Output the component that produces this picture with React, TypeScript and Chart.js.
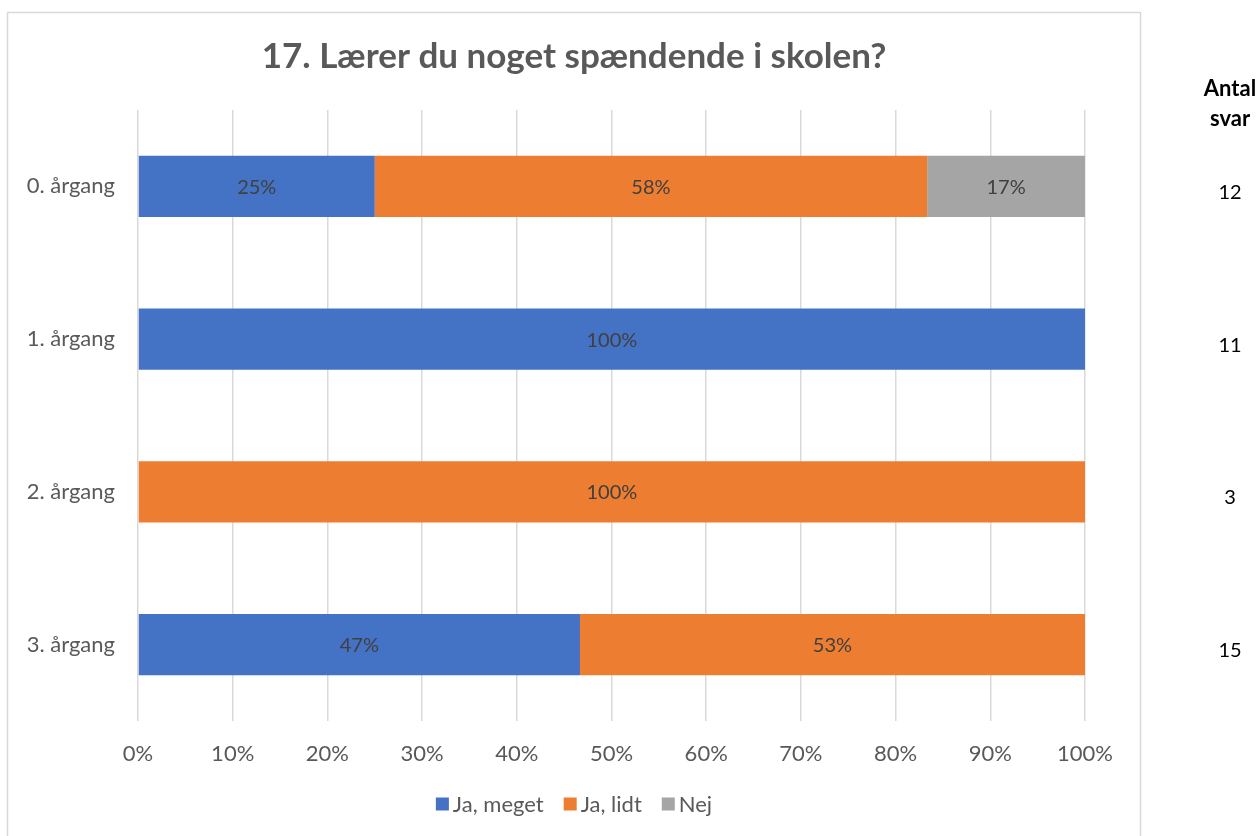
import { useEffect, useRef } from "react";
import { Chart, registerables } from "chart.js";

Chart.register(...registerables);

const categories = ["0. årgang", "1. årgang", "2. årgang", "3. årgang"];
const seriesNames = ["Ja, meget", "Ja, lidt", "Nej"];
const jaMeget = [25, 100, 0, 46.67];
const jaLidt = [58.33, 0, 100, 53.33];
const nej = [16.67, 0, 0, 0];
const antalSvar = [12, 11, 3, 15];
const antalHeader = ["Antal", "svar"];
const chartTitle = "17. Lærer du noget spændende i skolen?";
const seriesColors = ["#4472C4", "#ED7D31", "#A5A5A5"];

const FONT = "Lato, 'Open Sans', sans-serif";

const extrasPlugin = {
  id: "extras",
  beforeDraw(chart: any) {
    const ctx = chart.ctx;
    ctx.save();
    ctx.fillStyle = "#ffffff";
    ctx.fillRect(0, 0, chart.width, chart.height);
    ctx.restore();
  },
  afterDatasetsDraw(chart: any) {
    const ctx = chart.ctx;
    ctx.save();
    ctx.font = `20px ${FONT}`;
    ctx.fillStyle = "#404040";
    ctx.textAlign = "center";
    ctx.textBaseline = "middle";
    chart.data.datasets.forEach((ds: any, i: number) => {
      const meta = chart.getDatasetMeta(i);
      meta.data.forEach((bar: any, j: number) => {
        const v = ds.data[j];
        if (!v) return;
        const p = bar.getProps(["x", "y", "base"], true);
        const cx = (p.x + p.base) / 2;
        ctx.fillText(Math.round(v) + "%", cx, p.y + 1);
      });
    });
    ctx.restore();
  },
  afterDraw(chart: any) {
    const ctx = chart.ctx;
    const yScale = chart.scales.y;
    ctx.save();
    // border
    ctx.strokeStyle = "#d9d9d9";
    ctx.lineWidth = 1.5;
    ctx.strokeRect(7.5, 12.5, 1133, 900);
    // title
    ctx.fillStyle = "#595959";
    ctx.font = `bold 35px ${FONT}`;
    ctx.textAlign = "center";
    ctx.textBaseline = "middle";
    ctx.fillText(chartTitle, 574, 57);
    // antal svar header
    ctx.fillStyle = "#000000";
    ctx.font = `bold 22px ${FONT}`;
    ctx.fillText(antalHeader[0], 1230, 89);
    ctx.fillText(antalHeader[1], 1230, 119);
    ctx.font = `20px ${FONT}`;
    antalSvar.forEach((n, i) => {
      const y = yScale.getPixelForValue(i);
      ctx.fillText(String(n), 1230, y + 6);
    });
    // legend
    ctx.font = `22px ${FONT}`;
    ctx.textAlign = "left";
    const box = 13;
    const gapText = 4;
    const gapItem = 20;
    const widths = seriesNames.map((n) => box + gapText + ctx.measureText(n).width);
    const total = widths.reduce((a, b) => a + b, 0) + gapItem * (seriesNames.length - 1);
    let x = 574 - total / 2;
    const ly = 804;
    seriesNames.forEach((name, i) => {
      ctx.fillStyle = seriesColors[i];
      ctx.fillRect(x, ly - 6.5, box, box);
      ctx.fillStyle = "#595959";
      ctx.fillText(name, x + box + gapText, ly + 1);
      x += widths[i] + gapItem;
    });
    ctx.restore();
  },
};

export default function App() {
  const ref = useRef<HTMLCanvasElement | null>(null);
  useEffect(() => {
    if (!ref.current) return;
    const chart = new Chart(ref.current, {
      type: "bar",
      data: {
        labels: categories,
        datasets: [
          { label: seriesNames[0], data: jaMeget, backgroundColor: seriesColors[0] },
          { label: seriesNames[1], data: jaLidt, backgroundColor: seriesColors[1] },
          { label: seriesNames[2], data: nej, backgroundColor: seriesColors[2] },
        ],
      },
      options: {
        indexAxis: "y",
        responsive: false,
        animation: false,
        devicePixelRatio: 1,
        layout: { padding: { left: 0, right: 174, top: 110, bottom: 65 } },
        datasets: { bar: { barPercentage: 0.4, categoryPercentage: 1, borderWidth: 0 } },
        plugins: {
          legend: { display: false },
          title: { display: false },
          tooltip: { enabled: false },
        },
        scales: {
          x: {
            stacked: true,
            min: 0,
            max: 100,
            border: { display: false },
            grid: { color: "#d9d9d9", lineWidth: 1.5, drawTicks: false },
            ticks: {
              stepSize: 10,
              padding: 20,
              color: "#595959",
              font: { family: FONT, size: 22 },
              callback: (v: any) => v + "%",
            },
            afterFit: (s: any) => {
              s.height = 50;
            },
          },
          y: {
            stacked: true,
            border: { display: false },
            grid: { display: false },
            ticks: {
              padding: 15,
              color: "#595959",
              font: { family: FONT, size: 22 },
            },
            afterFit: (s: any) => {
              s.width = 138;
            },
          },
        },
      },
      plugins: [extrasPlugin],
    } as any);
    return () => chart.destroy();
  }, []);
  return (
    <div style={{ position: "fixed", left: 0, top: 0, width: 1259, height: 836 }}>
      <canvas ref={ref} width={1259} height={836} style={{ width: 1259, height: 836 }} />
    </div>
  );
}
